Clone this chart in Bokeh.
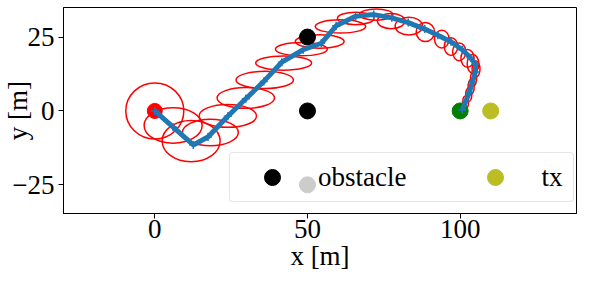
from bokeh.plotting import figure
from bokeh.models import Range1d, FixedTicker, Legend, LegendItem
from bokeh.embed import file_html
from bokeh.resources import INLINE

# ---- data ----
obstacle_x = [50, 50, 50]
obstacle_y = [25, 0, -25]
start_x = [0]
start_y = [0]
goal_x = [100]
goal_y = [0]
tx_x = [110]
tx_y = [0]

path_x = [0, 6, 12.6, 17.4, 23.9, 29.8, 35.7, 41.6, 48.6, 54.5, 59.4, 65.8, 71.7,
          77.6, 83.0, 88.4, 92.7, 97.0, 100.7, 103.4, 105.0, 105.0, 104.0, 103.0, 101.8, 100.7]
path_y = [0, -5.5, -11.5, -8.8, -1.8, 4.1, 10.0, 16.5, 20.7, 22.9, 28.8, 32.0, 32.6,
          31.5, 29.9, 27.7, 25.6, 23.4, 20.7, 18.0, 15.9, 13.2, 9.7, 6.2, 3.2, 0.3]

ell_x = [0, 6, 11.9, 18.2, 23.9, 29.8, 36.0, 42.2, 48.0, 54.0, 60.8, 65.8, 72.5,
         77.4, 83.2, 88.6, 94.0, 97.0, 99.7, 102.4, 104.2, 105.2, 104.4, 103.6, 102.8, 101.8, 100.9]
ell_y = [0, -4.9, -10.2, -7.3, -1.7, 4.4, 10.5, 16.2, 20.9, 23.5, 28.6, 31.3, 32.6,
         30.4, 28.7, 26.7, 24.3, 21.8, 20.0, 17.8, 15.9, 14.2, 11.0, 8.2, 5.5, 3.0, 0.8]
ell_w = [19, 19, 19, 18.3, 18.8, 18.8, 18.8, 18.3, 17.0, 16.0, 16.5, 12.0, 11.0,
         9.0, 9.0, 6.0, 4.8, 4.4, 4.3, 4.3, 3.8, 2.6, 2.0, 2.0, 2.0, 1.9, 1.8]
ell_h = [19, 12, 14, 9.0, 7.7, 7.0, 5.8, 4.8, 4.5, 4.5, 4.5, 4.2, 3.8,
         5.2, 6.0, 6.4, 6.0, 6.0, 6.0, 6.0, 6.4, 5.4, 5.0, 5.0, 4.6, 4.2, 3.5]

x_ticks = [0, 50, 100]
y_ticks = [-25, 0, 25]
y_tick_labels = {-25: "\u221225", 0: "0", 25: "25"}
x_label = "x [m]"
y_label = "y [m]"

FONT = "Liberation Serif"
FS = "27px"

p = figure(width=581, height=273, output_backend="svg", toolbar_location=None,
           x_range=Range1d(-29.9, 138.1), y_range=Range1d(-34.7, 35.0),
           min_border_left=63, min_border_right=5, min_border_top=7, min_border_bottom=40)

p.ellipse(x=ell_x, y=ell_y, width=ell_w, height=ell_h, fill_alpha=0,
          line_color="red", line_width=1.5)

obs_r = p.scatter(obstacle_x, obstacle_y, size=16, color="black")
p.scatter(start_x, start_y, size=15, color="red")
p.scatter(goal_x, goal_y, size=16, color="green")
tx_r = p.scatter(tx_x, tx_y, size=16, color="#bcbd22")

p.line(path_x, path_y, line_width=5, color="#1f77b4")
p.scatter(path_x, path_y, marker="cross", size=8, line_width=1.5, color="#1f77b4")

# axes
p.grid.visible = False
p.outline_line_color = "black"
p.outline_line_alpha = 1
p.outline_line_width = 1
for ax in (p.xaxis[0], p.yaxis[0]):
    ax.major_label_text_font = FONT
    ax.major_label_text_font_size = FS
    ax.major_label_text_color = "black"
    ax.axis_label_text_font = FONT
    ax.axis_label_text_font_size = FS
    ax.axis_label_text_font_style = "normal"
    ax.axis_label_text_color = "black"
    ax.minor_tick_line_color = None
    ax.major_tick_in = 0
    ax.major_tick_out = 5
    ax.major_tick_line_color = "black"
    ax.axis_line_color = "black"

p.xaxis.ticker = FixedTicker(ticks=x_ticks)
p.yaxis.ticker = FixedTicker(ticks=y_ticks)
p.yaxis.major_label_overrides = y_tick_labels
p.xaxis.axis_label = x_label
p.yaxis.axis_label = y_label
p.yaxis.major_label_standoff = 4
p.xaxis.major_label_standoff = 1
p.xaxis.axis_label_standoff = 0
p.yaxis.axis_label_standoff = -24

legend = Legend(items=[LegendItem(label="obstacle", renderers=[obs_r]),
                       LegendItem(label="tx", renderers=[tx_r])],
                location=(166, 11), orientation="horizontal",
                label_text_font=FONT, label_text_font_size=FS, label_text_color="black",
                glyph_width=76, glyph_height=40, label_standoff=8, spacing=51,
                padding=4, margin=0, label_width=28,
                border_line_color="#cccccc", border_line_width=1,
                background_fill_alpha=0.8)
try:
    legend.border_radius = 4
except Exception:
    pass
p.add_layout(legend)

open("out.html", "w").write(file_html(p, INLINE))
